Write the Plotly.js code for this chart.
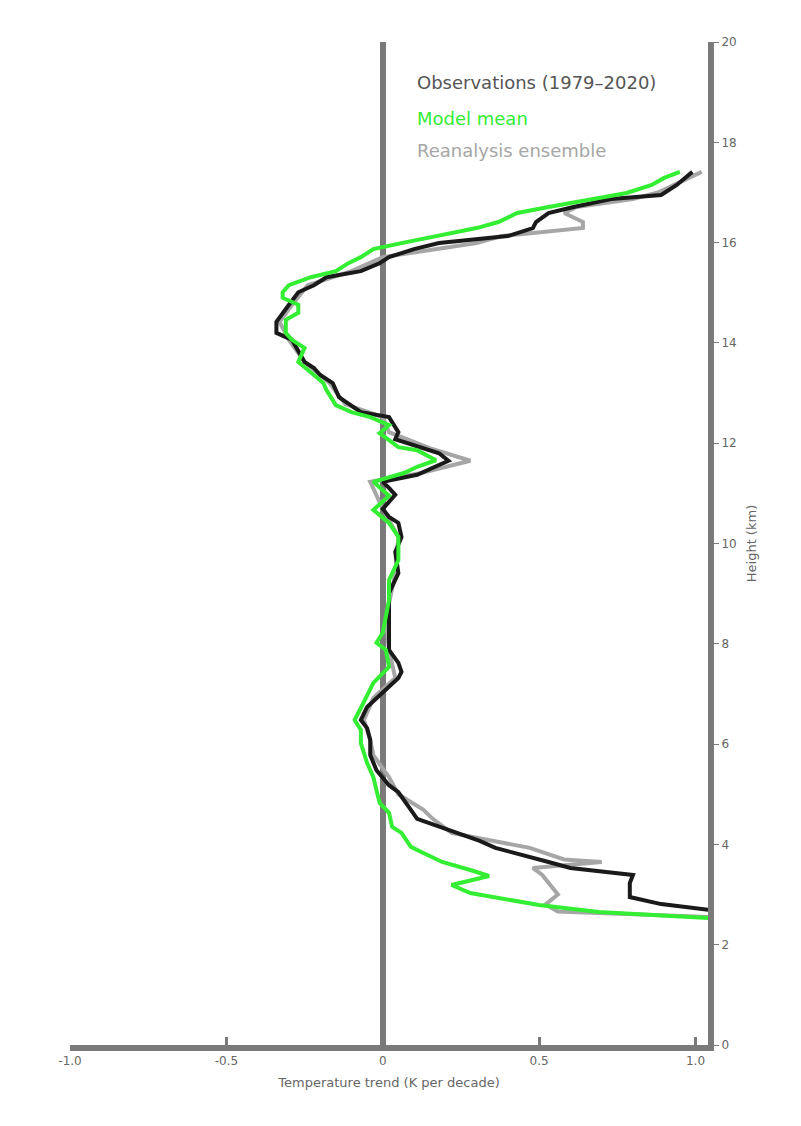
<!DOCTYPE html>
<html>
<head>
<meta charset="utf-8">
<script src="https://cdn.plot.ly/plotly-3.0.1.min.js"></script>
<style>html,body{margin:0;padding:0;background:#fff}#chart{width:801px;height:1126px}</style>
</head>
<body>
<div id="chart"></div>
<script>
// Height levels (km) and anomaly values for each series
const blackHeight = [2.69,2.81,2.95,3.23,3.39,3.53,3.65,3.79,3.93,4.07,4.23,4.37,4.51,4.69,4.93,5.04,5.18,5.34,5.48,5.78,6.08,6.32,6.48,6.74,6.92,7.04,7.32,7.44,7.62,7.88,8.33,9.01,9.41,9.83,10.13,10.41,10.53,10.69,10.83,10.97,11.11,11.23,11.37,11.51,11.65,11.80,11.94,12.08,12.22,12.52,12.62,12.78,12.92,13.20,13.36,13.50,13.62,14.06,14.20,14.42,14.60,14.76,15.01,15.15,15.31,15.43,15.59,15.71,15.87,15.99,16.13,16.29,16.41,16.59,16.71,16.87,16.95,17.15,17.41];
const blackValue  = [1.05,0.89,0.79,0.79,0.80,0.60,0.53,0.44,0.36,0.31,0.24,0.18,0.11,0.09,0.06,0.05,0.02,0.00,-0.02,-0.04,-0.04,-0.05,-0.07,-0.05,-0.02,0.00,0.05,0.06,0.05,0.02,0.02,0.02,0.05,0.04,0.06,0.05,0.02,0.00,0.02,0.04,0.02,0.00,0.11,0.16,0.21,0.18,0.11,0.04,0.05,0.02,-0.07,-0.11,-0.14,-0.16,-0.20,-0.22,-0.25,-0.29,-0.34,-0.34,-0.32,-0.30,-0.27,-0.22,-0.18,-0.07,-0.01,0.02,0.10,0.18,0.40,0.48,0.49,0.53,0.61,0.73,0.89,0.94,0.99];

const greenHeight = [2.53,2.60,2.65,2.79,2.89,3.03,3.19,3.37,3.49,3.65,3.83,3.95,4.23,4.35,4.63,4.83,5.08,5.34,5.62,6.02,6.28,6.48,6.72,6.98,7.22,7.54,7.88,8.02,8.22,8.87,9.27,9.67,10.13,10.41,10.67,10.95,11.11,11.23,11.41,11.53,11.66,11.86,11.92,12.20,12.36,12.52,12.62,12.76,13.06,13.20,13.36,13.46,13.62,13.90,14.06,14.20,14.46,14.60,14.76,14.90,15.01,15.15,15.31,15.43,15.59,15.71,15.87,15.99,16.13,16.29,16.41,16.59,16.71,16.87,16.99,17.15,17.29,17.41];
const greenValue  = [1.05,0.85,0.69,0.50,0.41,0.28,0.22,0.34,0.28,0.19,0.13,0.09,0.06,0.03,0.02,-0.01,-0.02,-0.03,-0.05,-0.07,-0.07,-0.09,-0.07,-0.05,-0.03,0.02,0.01,-0.02,0.00,0.02,0.02,0.05,0.05,0.02,-0.03,0.02,-0.01,-0.03,0.07,0.11,0.17,0.11,0.05,-0.01,0.02,-0.04,-0.10,-0.15,-0.18,-0.19,-0.22,-0.24,-0.27,-0.25,-0.29,-0.31,-0.31,-0.27,-0.27,-0.32,-0.32,-0.30,-0.23,-0.15,-0.11,-0.07,-0.03,0.06,0.18,0.30,0.37,0.43,0.53,0.67,0.78,0.86,0.90,0.95];

const grayHeight = [2.55,2.62,2.66,2.80,3.00,3.39,3.53,3.65,3.70,3.93,4.23,4.51,4.69,5.00,5.34,5.78,6.08,6.48,6.92,7.32,7.88,8.50,9.41,10.13,10.69,11.23,11.40,11.65,11.90,12.22,12.52,12.78,13.20,13.62,14.06,14.42,14.76,15.15,15.43,15.71,15.99,16.13,16.29,16.41,16.59,16.71,16.87,17.00,17.20,17.41];
const grayValue  = [1.05,0.75,0.56,0.52,0.56,0.51,0.48,0.70,0.58,0.47,0.22,0.16,0.13,0.05,0.02,-0.03,-0.04,-0.06,-0.03,0.04,0.02,0.01,0.04,0.05,0.00,-0.04,0.12,0.28,0.15,0.02,0.00,-0.12,-0.17,-0.25,-0.30,-0.33,-0.29,-0.24,-0.10,0.00,0.30,0.38,0.64,0.64,0.58,0.62,0.80,0.88,0.95,1.02];

const seriesNames = ["Observations (1979–2020)", "Model mean", "Reanalysis ensemble"];
const seriesColors = ["#1a1a1a", "#33ee33", "#a6a6a6"];

const xTicks = [-1, -0.5, 0, 0.5, 1];
const xTickText = ["-1.0", "-0.5", "0", "0.5", "1.0"];

const traces = [
  {x: grayValue, y: grayHeight, name: seriesNames[2], mode: "lines", line: {color: seriesColors[2], width: 4}},
  {x: blackValue, y: blackHeight, name: seriesNames[0], mode: "lines", line: {color: seriesColors[0], width: 4}},
  {x: greenValue, y: greenHeight, name: seriesNames[1], mode: "lines", line: {color: seriesColors[1], width: 4}}
];

const legendY = [0.960, 0.924, 0.892];
const annotations = seriesNames.map((n, i) => ({
  text: n, xref: "paper", yref: "paper", x: 0.54, y: legendY[i],
  xanchor: "left", yanchor: "middle", showarrow: false,
  font: {family: "DejaVu Sans, sans-serif", size: 18, color: i === 0 ? "#555555" : seriesColors[i]}
}));

const layout = {
  width: 801, height: 1126,
  margin: {l: 70, r: 93, t: 42, b: 81},
  paper_bgcolor: "#ffffff", plot_bgcolor: "#ffffff",
  showlegend: false,
  font: {family: "DejaVu Sans, sans-serif", color: "#666666", size: 12},
  xaxis: {
    range: [-1, 1.04], tickvals: xTicks, ticktext: xTickText,
    showgrid: false, zeroline: true, zerolinecolor: "#7a7a7a", zerolinewidth: 6,
    showline: true, linecolor: "#7a7a7a", linewidth: 6,
    ticks: "inside", ticklen: 8, tickcolor: "#7a7a7a", tickwidth: 3,
    title: {text: "Temperature trend (K per decade)", font: {size: 13, color: "#666666"}, standoff: 12}
  },
  yaxis: {
    range: [0, 20], side: "right", dtick: 2,
    showgrid: false, zeroline: false,
    showline: true, linecolor: "#7a7a7a", linewidth: 6,
    ticks: "outside", ticklen: 5, tickcolor: "#7a7a7a",
    title: {text: "Height (km)", font: {size: 13, color: "#666666"}}
  },
  annotations: annotations
};

Plotly.newPlot("chart", traces, layout, {displayModeBar: false, staticPlot: true});
</script>
</body>
</html>
